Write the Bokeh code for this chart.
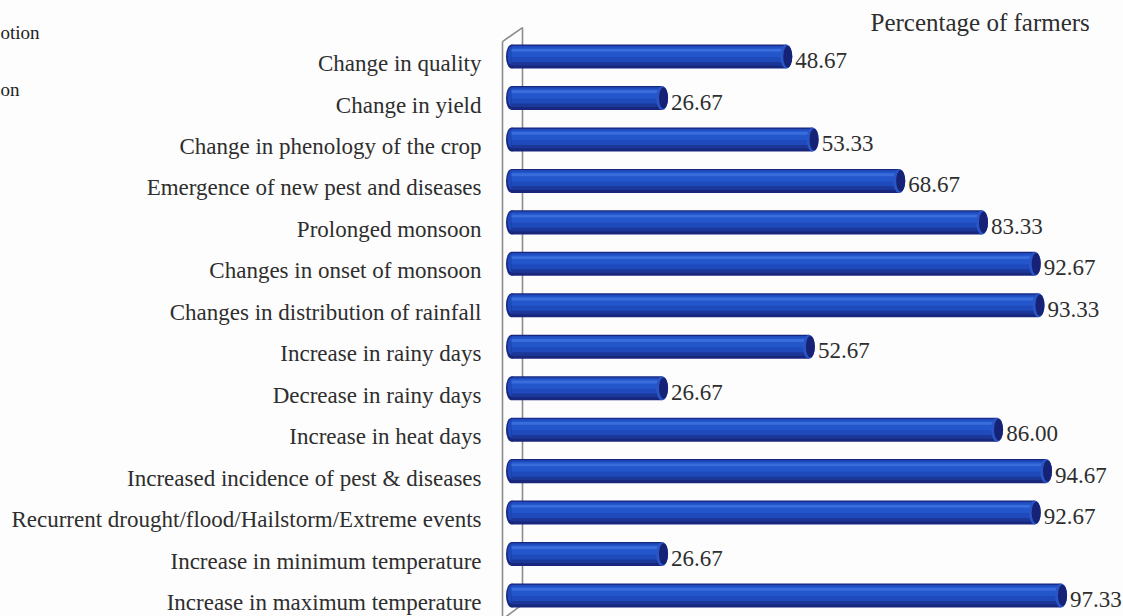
from bokeh.plotting import figure
from bokeh.models import Range1d, ColumnDataSource
from bokeh.core.properties import value
from bokeh.transform import dodge
from bokeh.embed import file_html
from bokeh.resources import INLINE

# ---- data (top to bottom as in the chart) ----
categories = [
    "Change in quality",
    "Change in yield",
    "Change in phenology of the crop",
    "Emergence of new pest and diseases",
    "Prolonged monsoon",
    "Changes in onset of monsoon",
    "Changes in distribution of rainfall",
    "Increase in rainy days",
    "Decrease in rainy days",
    "Increase in heat days",
    "Increased incidence of pest & diseases",
    "Recurrent drought/flood/Hailstorm/Extreme events",
    "Increase in minimum temperature",
    "Increase in maximum temperature",
]
percentages = [48.67, 26.67, 53.33, 68.67, 83.33, 92.67, 93.33,
               52.67, 26.67, 86.00, 94.67, 92.67, 26.67, 97.33]
value_labels = ["%.2f" % v for v in percentages]
axis_title = "Percentage of farmers"
cut_legend = ["otion", "on"]

n = len(categories)
ypos = [n - 1 - i for i in range(n)]

W, H = 1123, 616
SX = 5.647          # px per percent
SY = 41.4           # px per category
x0_px = 511.0       # px of zero
xmin = -x0_px / SX
xmax = xmin + W / SX
ymin = -(H - 595.0) / SY
ymax = (n - 1) + 56.0 / SY

p = figure(width=W, height=H, output_backend="svg", toolbar_location=None,
           x_range=Range1d(xmin, xmax), y_range=Range1d(ymin, ymax),
           min_border=0, min_border_left=0, min_border_right=0,
           min_border_top=0, min_border_bottom=0)
p.axis.visible = False
p.grid.visible = False
p.outline_line_color = None
p.background_fill_color = "#fdfdfd"
p.border_fill_color = "#fdfdfd"

def px2x(px):
    return (px - x0_px) / SX

def pxy(py):
    return ymax - py / SY

# ---- 3D wall (decoration) ----
wall_col = "#8c8c8c"
bx, fx = px2x(522), px2x(502)
p.segment(x0=[bx, fx, fx, bx], y0=[pxy(27), pxy(41), pxy(41), pxy(603)],
          x1=[bx, fx, bx, fx], y1=[pxy(603), pxy(640), pxy(27), pxy(618)],
          line_color=wall_col, line_width=1.6)

src = ColumnDataSource(dict(y=ypos, v=percentages, lab=value_labels, cat=categories))
h = 24.0 / SY

# left caps
p.ellipse(x=0, y="y", width=11, height=h, width_units="screen", height_units="data",
          fill_color="#18267c", line_color=None, source=src)
p.ellipse(x=0, y=dodge("y", 0.05 * h, range=p.y_range), width=8, height=h * 0.8,
          width_units="screen", height_units="data",
          fill_color="#1e4abc", line_color=None, source=src)

# cylinder body layers
p.hbar(y="y", left=0, right="v", height=h, fill_color="#18267c", line_color=None, source=src)
p.hbar(y=dodge("y", 0.05 * h, range=p.y_range), left=0, right="v", height=h * 0.8,
       fill_color="#1e4abc", line_color=None, source=src)
p.hbar(y=dodge("y", 0.18 * h, range=p.y_range), left=0, right="v", height=h * 0.4,
       fill_color="#2456cb", line_color=None, source=src)
p.hbar(y=dodge("y", 0.26 * h, range=p.y_range), left=0, right="v", height=h * 0.12,
       fill_color="#3a6ddc", line_color=None, source=src)
p.hbar(y=dodge("y", -0.3 * h, range=p.y_range), left=0, right="v", height=h * 0.15,
       fill_color="#1b3797", line_color=None, source=src)

# right caps
p.ellipse(x="v", y="y", width=12, height=h, width_units="screen", height_units="data",
          fill_color="#2a55c4", line_color=None, source=src)
p.ellipse(x=dodge("v", 0.25, range=p.x_range), y="y", width=9, height=h * 0.9,
          width_units="screen", height_units="data",
          fill_color="#162275", line_color=None, source=src)

font = value("Liberation Serif")
txt_col = "#2e2e2e"

# category labels
p.text(x=px2x(481), y=dodge("y", -7.0 / SY, range=p.y_range), text="cat", source=src,
       text_font=font, text_font_size="23px", text_color=txt_col,
       text_align="right", text_baseline="middle")

# value labels
p.text(x="v", y=dodge("y", -4.0 / SY, range=p.y_range), text="lab", source=src,
       x_offset=9, text_font=font, text_font_size="23px", text_color=txt_col,
       text_align="left", text_baseline="middle")

# axis title
p.text(x=[px2x(870)], y=[pxy(22)], text=[axis_title], text_font=font,
       text_font_size="25px", text_color=txt_col, text_align="left",
       text_baseline="middle")

# cut-off legend remnants at the left edge
p.text(x=[px2x(0), px2x(0)], y=[pxy(32), pxy(89)], text=cut_legend,
       text_font=font, text_font_size="19px", text_color="#222222",
       text_align="left", text_baseline="middle")

open("out.html", "w").write(file_html(p, INLINE))
